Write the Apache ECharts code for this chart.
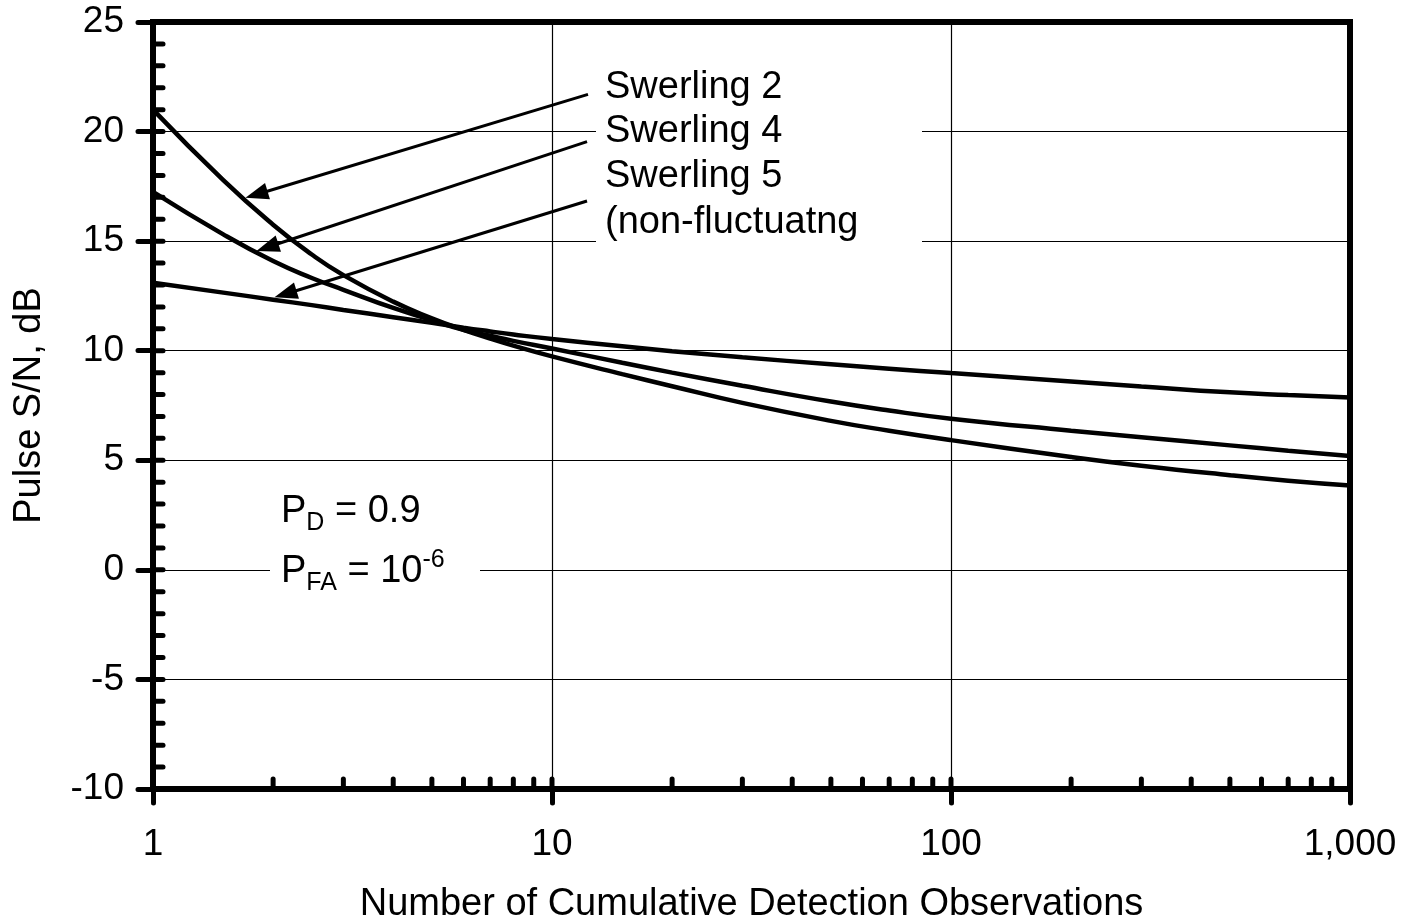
<!DOCTYPE html>
<html><head><meta charset="utf-8">
<script src="https://cdn.jsdelivr.net/npm/echarts@6/dist/echarts.min.js"></script>
<style>html,body{margin:0;padding:0;background:#fff}#c{width:1405px;height:921px}</style>
</head><body><div id="c"></div>
<script>
// ---- data ----
const observations = [1, 1.5, 2, 2.5, 3, 4, 5, 6, 7, 8, 10, 15, 20, 30, 50, 70, 100, 200, 300, 500, 700, 1000];
const swerling2 = [21.0, 17.78, 15.75, 14.39, 13.45, 12.24, 11.48, 10.95, 10.55, 10.23, 9.74, 8.93, 8.38, 7.62, 6.8, 6.35, 5.92, 5.15, 4.75, 4.32, 4.07, 3.85];
const swerling4 = [17.25, 15.31, 14.09, 13.32, 12.78, 11.95, 11.4, 10.95, 10.68, 10.45, 10.1, 9.45, 9.0, 8.4, 7.68, 7.27, 6.9, 6.35, 6.05, 5.68, 5.44, 5.2];
const swerling5 = [13.1, 12.65, 12.33, 12.08, 11.86, 11.53, 11.27, 11.05, 10.88, 10.74, 10.53, 10.2, 9.98, 9.7, 9.38, 9.18, 8.98, 8.6, 8.37, 8.1, 7.98, 7.87];
const xTickValues = [1, 10, 100, 1000];
const xTickLabels = ['1', '10', '100', '1,000'];
const xMinorTicks = [2, 3, 4, 5, 6, 7, 8, 9, 10, 20, 30, 40, 50, 60, 70, 80, 90, 100, 200, 300, 400, 500, 600, 700, 800, 900];
const yMinorTicks = [-9, -8, -7, -6, -5, -4, -3, -2, -1, 0, 1, 2, 3, 4, 5, 6, 7, 8, 9, 10, 11, 12, 13, 14, 15, 16, 17, 18, 19, 20, 21, 22, 23, 24];
// arrow annotations (data units): tail -> head
const arrowTails = [[12.31, 21.7], [12.24, 19.54], [12.24, 16.83]];
const arrowHeads = [[1.817, 17.13], [1.935, 14.72], [2.148, 12.59]];
const curveNames = ['Swerling 2', 'Swerling 4', 'Swerling 5'];
const labelLines = ['Swerling 2', 'Swerling 4', 'Swerling 5', '(non-fluctuatng'];

const FONT = "'Liberation Sans', Arial, sans-serif";
const Y_MIN = -10, Y_MAX = 25, X_MIN = 1, X_MAX = 1000;

const chart = echarts.init(document.getElementById('c'), null, { renderer: 'canvas' });

function mkLine(name, vals) {
  return {
    name, type: 'line', smooth: 0.5, showSymbol: false, symbol: 'none',
    data: observations.map((x, i) => [x, vals[i]]),
    lineStyle: { color: '#000', width: 4.5 }, z: 3, silent: true
  };
}

const series = [
  mkLine(curveNames[0], swerling2),
  mkLine(curveNames[1], swerling4),
  mkLine(curveNames[2], swerling5),
  {
    type: 'custom', name: 'xticks', clip: false, silent: true, z: 4,
    data: xMinorTicks.map(v => [v, Y_MIN]),
    encode: { x: 0, y: 1 },
    renderItem: (params, api) => {
      const p = api.coord([api.value(0), api.value(1)]);
      return { type: 'line', shape: { x1: p[0], y1: p[1], x2: p[0], y2: p[1] - 10 },
        style: { stroke: '#000', lineWidth: 5, lineCap: 'round' } };
    }
  },
  {
    type: 'custom', name: 'yticks', clip: false, silent: true, z: 4,
    data: yMinorTicks.map(v => [X_MIN, v]),
    encode: { x: 0, y: 1 },
    renderItem: (params, api) => {
      const p = api.coord([api.value(0), api.value(1)]);
      return { type: 'line', shape: { x1: p[0], y1: p[1], x2: p[0] + 10, y2: p[1] },
        style: { stroke: '#000', lineWidth: 5, lineCap: 'round' } };
    }
  },
  {
    type: 'line', name: 'arrows', data: [], silent: true, z: 3,
    markLine: {
      silent: true, animation: false,
      symbol: ['none', 'triangle'], symbolSize: [17, 23],
      label: { show: false },
      lineStyle: { color: '#000', width: 3, type: 'solid' },
      emphasis: { disabled: true },
      data: arrowTails.map((t, i) => [{ coord: t }, { coord: arrowHeads[i] }])
    }
  }
];

const graphics = [
  { type: 'rect', z: 1, shape: { x: 596, y: 66, width: 326, height: 180 }, style: { fill: '#fff' } },
  { type: 'rect', z: 1, shape: { x: 270, y: 488, width: 210, height: 110 }, style: { fill: '#fff' } }
];
const labelY = [88, 132, 177, 223];
labelLines.forEach((t, i) => {
  graphics.push({ type: 'text', z: 5, x: 605, y: labelY[i],
    style: { text: t, font: '38px ' + FONT, fill: '#000', verticalAlign: 'middle', align: 'left' } });
});
graphics.push({ type: 'text', z: 5, x: 281, y: 512,
  style: { text: 'P{sub|D} = 0.9', font: '38px ' + FONT, fill: '#000', verticalAlign: 'middle', lineHeight: 48,
    rich: { sub: { fontSize: 25, fontFamily: FONT, verticalAlign: 'bottom', lineHeight: 25, fill: '#000' } } } });
graphics.push({ type: 'text', z: 5, x: 281, y: 572,
  style: { text: 'P{sub|FA} = 10{sup|-6}', font: '38px ' + FONT, fill: '#000', verticalAlign: 'middle', lineHeight: 48,
    rich: { sub: { fontSize: 25, fontFamily: FONT, verticalAlign: 'bottom', lineHeight: 25, fill: '#000' },
            sup: { fontSize: 25, fontFamily: FONT, verticalAlign: 'top', lineHeight: 25, fill: '#000' } } } });

chart.setOption({
  animation: false,
  backgroundColor: '#fff',
  textStyle: { fontFamily: FONT },
  grid: { left: 153, right: 55, top: 22, bottom: 132, containLabel: false, outerBoundsMode: 'none',
    show: true, borderWidth: 6, borderColor: '#000', backgroundColor: 'transparent' },
  xAxis: {
    type: 'log', logBase: 10, min: X_MIN, max: X_MAX,
    name: 'Number of Cumulative Detection Observations', nameLocation: 'middle', nameGap: 97,
    nameTextStyle: { fontSize: 38, color: '#000', fontFamily: FONT },
    axisLine: { show: true, onZero: false, lineStyle: { color: '#000', width: 6 } },
    axisTick: { show: true, length: 14, lineStyle: { color: '#000', width: 5, cap: 'round' } },
    minorTick: { show: false },
    axisLabel: { show: true, margin: 37, fontSize: 37, color: '#000', fontFamily: FONT,
      formatter: v => { const i = xTickValues.indexOf(Math.round(v)); return i >= 0 ? xTickLabels[i] : ''; } },
    splitLine: { show: true, lineStyle: { color: '#000', width: 1.2 } },
    minorSplitLine: { show: false }
  },
  yAxis: {
    type: 'value', min: Y_MIN, max: Y_MAX, interval: 5,
    name: 'Pulse S/N, dB', nameLocation: 'middle', nameGap: 104, nameRotate: 90,
    nameTextStyle: { fontSize: 38, color: '#000', fontFamily: FONT },
    axisLine: { show: true, onZero: false, lineStyle: { color: '#000', width: 6 } },
    axisTick: { show: true, length: 15, lineStyle: { color: '#000', width: 5, cap: 'round' } },
    axisLabel: { show: true, margin: 29, fontSize: 37, color: '#000', fontFamily: FONT },
    splitLine: { show: true, lineStyle: { color: '#000', width: 1.2 } }
  },
  series,
  graphic: graphics
});
</script></body></html>
